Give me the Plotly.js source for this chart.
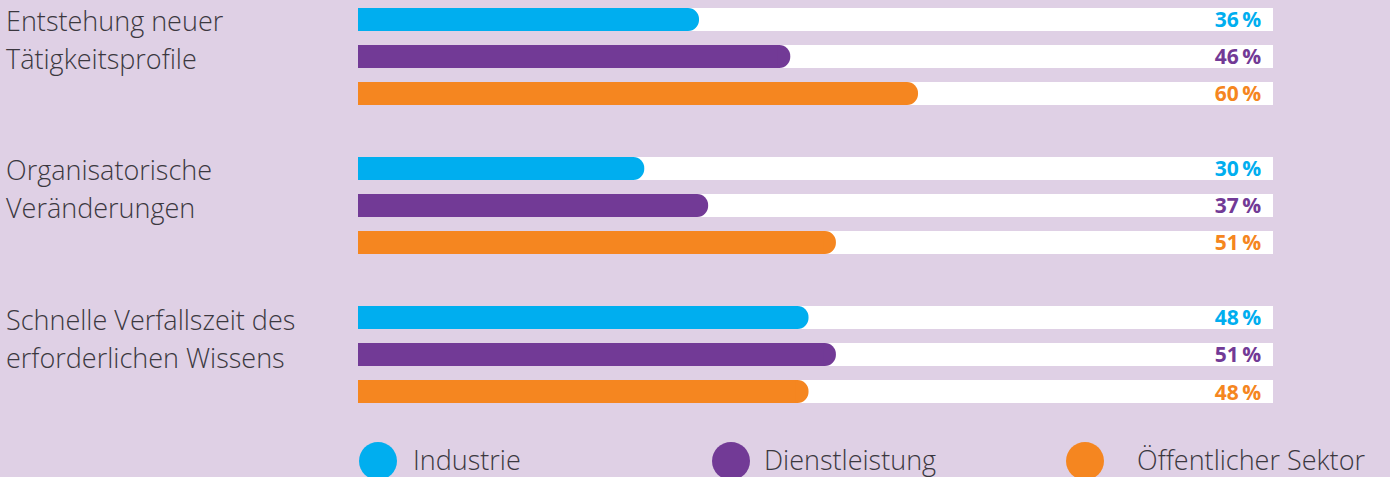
<!DOCTYPE html>
<html>
<head>
<meta charset="utf-8">
<script src="https://cdn.plot.ly/plotly-3.0.1.min.js"></script>
<style>
html,body{margin:0;padding:0;background:#dfd0e5;}
#chart{width:1390px;height:477px;}
</style>
</head>
<body>
<div id="chart"></div>
<script>
// ---- data ----
const categories = [
  "Entstehung neuer<br>Tätigkeitsprofile",
  "Organisatorische<br>Veränderungen",
  "Schnelle Verfallszeit des<br>erforderlichen Wissens"
];
const seriesNames = ["Industrie", "Dienstleistung", "Öffentlicher Sektor"];
const industrie = [36, 30, 48];
const dienstleistung = [46, 37, 51];
const oeffentlich = [60, 51, 48];

// ---- style ----
const colors = ["#00aeef", "#723a96", "#f58620"];
const bg = "#dfd0e5";
const textColor = "#3b383f";
const labelFont = "Open Sans, Noto Sans, sans-serif";
const xMin = -1.37, xMax = 98.9;
const capLen = 1.4; // length (in axis units) of the rounded cap

const seriesValues = [industrie, dienstleistung, oeffentlich];
const traces = [];
seriesValues.forEach((vals, i) => {
  // white track with value label at its right end
  traces.push({
    type: "bar", orientation: "h",
    y: categories, x: categories.map(() => xMax - xMin), base: xMin,
    offsetgroup: "g" + i,
    marker: {color: "#ffffff", line: {width: 0}},
    text: vals.map(v => v + "\u2009%\u00a0\u2009"),
    textposition: "inside", insidetextanchor: "end",
    constraintext: "none",
    textfont: {family: labelFont, size: 21, weight: 700, color: colors[i]},
    showlegend: false, hoverinfo: "skip"
  });
  // coloured bar (rounded right end)
  traces.push({
    type: "bar", orientation: "h",
    y: categories, x: vals.map(v => v - xMin), base: xMin,
    offsetgroup: "g" + i,
    marker: {color: colors[i], line: {width: 0}, cornerradius: 11.5},
    textposition: "none",
    name: seriesNames[i],
    showlegend: false, hoverinfo: "skip"
  });
  // square left end
  traces.push({
    type: "bar", orientation: "h",
    y: categories, x: vals.map(v => v - xMin - capLen), base: xMin,
    offsetgroup: "g" + i,
    marker: {color: colors[i], line: {width: 0}},
    textposition: "none",
    showlegend: false, hoverinfo: "skip"
  });
});

const annotations = [];
// category labels (left aligned, two lines)
const lineOffsets = [-35.5, 2.5];
categories.forEach(c => {
  c.split("<br>").forEach((line, k) => {
    annotations.push({
      xref: "paper", yref: "y", x: -354/915, y: c,
      xanchor: "left", yanchor: "middle", yshift: -lineOffsets[k],
      text: line, showarrow: false, align: "left",
      font: {family: labelFont, size: 27, weight: 300, color: textColor}
    });
  });
});

// custom legend
const shapes = [];
const legendCircleX = [20/915, 373/915, 727/915];
const legendTextX = [53/915, 404/915, 777/915];
const legendY = -41/420;
const legendTextY = -39/420;
seriesNames.forEach((n, i) => {
  shapes.push({
    type: "circle", xref: "paper", yref: "paper",
    xsizemode: "pixel", ysizemode: "pixel",
    xanchor: legendCircleX[i], yanchor: legendY,
    x0: -19, x1: 19, y0: -19, y1: 19,
    fillcolor: colors[i], line: {width: 0}
  });
  annotations.push({
    xref: "paper", yref: "paper", x: legendTextX[i], y: legendTextY,
    xanchor: "left", yanchor: "middle",
    text: n, showarrow: false,
    font: {family: labelFont, size: 27, weight: 300, color: textColor}
  });
});

const layout = {
  width: 1390, height: 477,
  margin: {l: 358, r: 117, t: 0, b: 57, pad: 0},
  paper_bgcolor: bg, plot_bgcolor: bg,
  barmode: "group", bargap: 0.255, bargroupgap: 0.378,
  xaxis: {range: [xMin, xMax], visible: false, fixedrange: true},
  yaxis: {type: "category", range: [2.4396, -0.379], visible: false, fixedrange: true},
  showlegend: false,
  hovermode: false,
  annotations: annotations,
  shapes: shapes
};

Plotly.newPlot("chart", traces, layout, {displayModeBar: false, staticPlot: true});
</script>
</body>
</html>
